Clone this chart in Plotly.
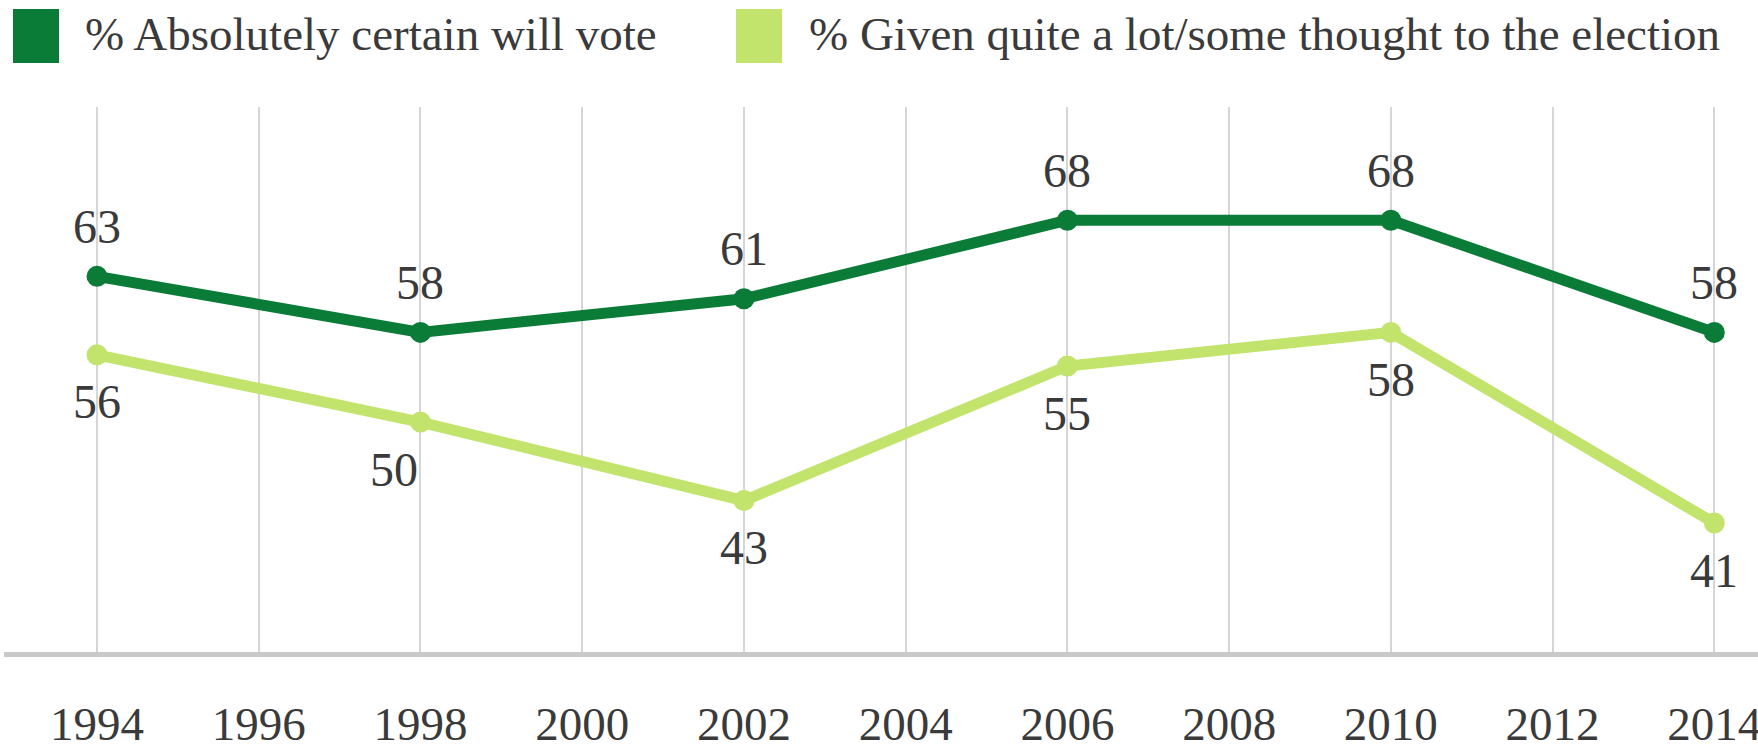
import plotly.graph_objects as go

years = [1994, 1998, 2002, 2006, 2010, 2014]
certain = [63, 58, 61, 68, 68, 58]
thought = [56, 50, 43, 55, 58, 41]
tick_years = list(range(1994, 2015, 2))
name_certain = "% Absolutely certain will vote"
name_thought = "% Given quite a lot/some thought to the election"

dark = "#0b7c37"
light = "#c2e46c"
font_fam = "Liberation Serif, DejaVu Serif, serif"
txt_col = "#3a3a3a"

thought_xshift = [0, -26, 0, 0, 0, 0]

fig = go.Figure()
fig.add_trace(go.Scatter(
    x=years, y=thought, mode="lines+markers", name=name_thought,
    line=dict(color=light, width=11), marker=dict(color=light, size=21),
    cliponaxis=False, showlegend=False,
))
fig.add_trace(go.Scatter(
    x=years, y=certain, mode="lines+markers", name=name_certain,
    line=dict(color=dark, width=11), marker=dict(color=dark, size=21),
    cliponaxis=False, showlegend=False,
))

W, H = 1758, 749
ml, mr, mt, mb = 4, 0, 107, 97
pw, ph = W - ml - mr, H - mt - mb

def px_to_paper_x(px):
    return (px - ml) / pw

def px_to_paper_y(py):
    return (H - mb - py) / ph

annotations = []
for x, v in zip(years, certain):
    annotations.append(dict(x=x, y=v, xref="x", yref="y", text=str(v), showarrow=False,
                            yanchor="middle", xanchor="center", yshift=50,
                            font=dict(family=font_fam, size=48, color=txt_col)))
for x, v, xs in zip(years, thought, thought_xshift):
    annotations.append(dict(x=x, y=v, xref="x", yref="y", text=str(v), showarrow=False,
                            yanchor="middle", xanchor="center", yshift=-47, xshift=xs,
                            font=dict(family=font_fam, size=48, color=txt_col)))

# custom legend
legend_items = [(name_certain, dark, 13, 83), (name_thought, light, 736, 807)]
shapes = []
for name, color, sx, tx in legend_items:
    shapes.append(dict(type="rect", xref="paper", yref="paper",
                       x0=px_to_paper_x(sx), x1=px_to_paper_x(sx + 46),
                       y0=px_to_paper_y(63), y1=px_to_paper_y(9),
                       fillcolor=color, line=dict(width=0)))
    annotations.append(dict(xref="paper", yref="paper", x=px_to_paper_x(tx), y=px_to_paper_y(34),
                            xanchor="left", yanchor="middle", text=name, showarrow=False,
                            font=dict(family=font_fam, size=47, color=txt_col)))

fig.update_layout(
    width=W, height=H,
    margin=dict(l=ml, r=mr, t=mt, b=mb),
    paper_bgcolor="white", plot_bgcolor="white",
    shapes=shapes, annotations=annotations,
    xaxis=dict(range=[1992.85, 2014.54], tickvals=tick_years, ticktext=[str(y) for y in tick_years],
               showgrid=True, gridcolor="#d6d6d6", gridwidth=2,
               showline=True, linecolor="#c9c9c9", linewidth=5,
               ticks="outside", ticklen=0, ticklabelstandoff=27,
               ticklabeloverflow="allow", automargin=False,
               tickfont=dict(family=font_fam, size=47, color=txt_col),
               zeroline=False),
    yaxis=dict(range=[29.5, 78.1], showgrid=False, showticklabels=False, zeroline=False,
               showline=False, automargin=False),
)

fig.write_html("out.html")
